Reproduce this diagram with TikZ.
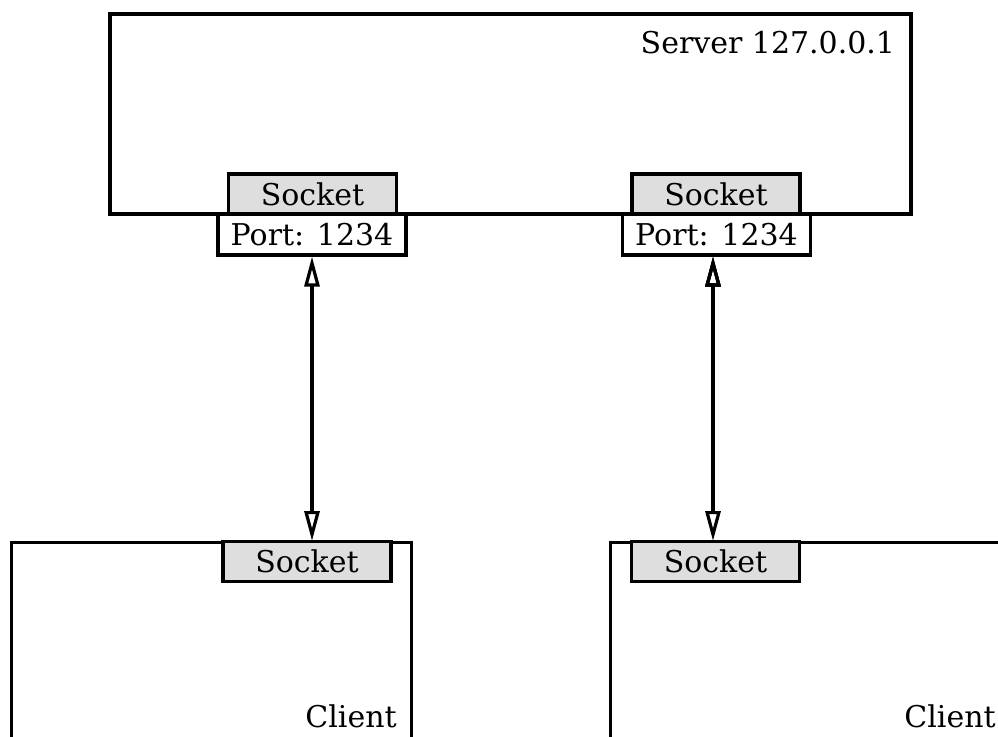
\documentclass[tikz,border=0pt]{standalone}
\usepackage{fontspec}
\setmainfont{DejaVu Serif}
\usepackage{tikz}
\usetikzlibrary{arrows.meta}
\usetikzlibrary{calc}
\usetikzlibrary{positioning}

\begin{document}
\begin{tikzpicture}[x=1pt,y=-1pt,
    font=\fontsize{30}{34}\selectfont,
    box/.style={draw,line width=3.2pt,rectangle,inner sep=0pt},
    sock/.style={box,fill=black!13,minimum width=168pt,minimum height=40pt},
    port/.style={box,fill=white,minimum width=188pt,minimum height=41pt}]
  \useasboundingbox (0,0) rectangle (998,736);
  \clip (0,0) rectangle (998,736);

  \node [box,minimum width=801pt,minimum height=200pt] (srv) at (510.5,114) {};
  \node [anchor=base east] (srvlab) at ($(srv.north east)+(-14,41)$) {Server 127.0.0.1};

  \node [sock] (srvSockA) at (312.5,194) {Socket};
  \node [sock] (srvSockB) at (716,194) {Socket};
  \node [port] (portA) at (312,234.5) {Port: 1234};
  \node [port] (portB) at (716.5,234.5) {Port: 1234};

  \node [box,minimum width=400pt,minimum height=300pt,anchor=north west] (cliA) at (10,541) {};
  \node [anchor=base east] (cliAlab) at ($(cliA.north east)+(-13,186)$) {Client};
  \node [sock] (cliSockA) at (307,561.5) {Socket};

  \node [box,minimum width=400pt,minimum height=300pt,anchor=north west] (cliB) at (609,541) {};
  \node [anchor=base east] (cliBlab) at ($(cliB.north east)+(-13,186)$) {Client};
  \node [sock] (cliSockB) at (715.5,561.5) {Socket};

  \path [draw,line width=3.2pt,{Triangle[open,length=30pt,width=15pt]}-{Triangle[open,length=30pt,width=15pt]}]
    (portA.south) edge (portA.south |- cliA.north)
    ([xshift=-3.5pt]portB.south) edge ([xshift=-3.5pt]portB.south |- cliB.north);

\end{tikzpicture}
\end{document}
